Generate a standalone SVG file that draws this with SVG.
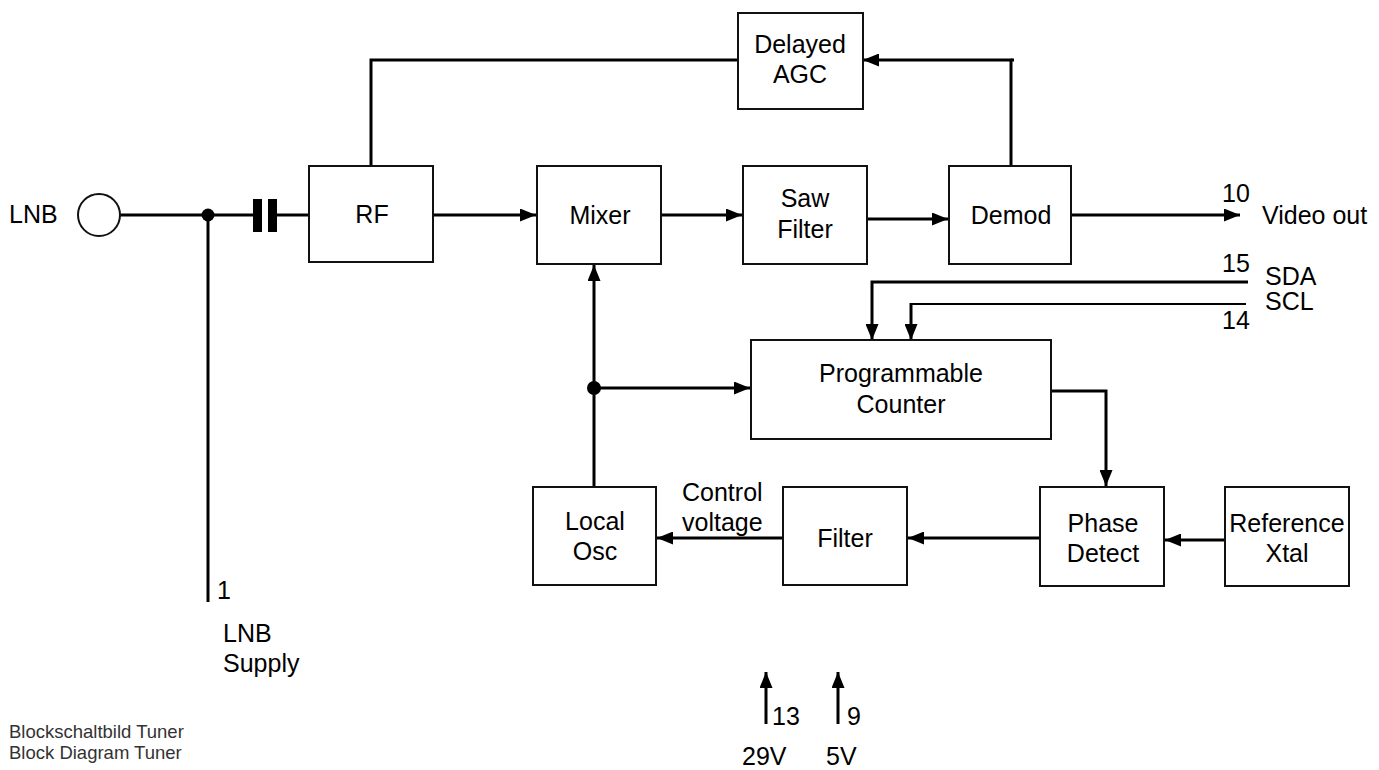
<svg xmlns="http://www.w3.org/2000/svg" width="1379" height="770" viewBox="0 0 1379 770">
<style>
.box{fill:#fff;stroke:#111;stroke-width:2}
.t{font-family:"Liberation Sans",Arial,sans-serif;font-size:25px;fill:#000}
.c{text-anchor:middle}
.w{fill:none;stroke:#000;stroke-width:3}
.thin{fill:none;stroke:#000;stroke-width:1.8}
.arr{marker-end:url(#ah)}
.small{font-family:"Liberation Sans",Arial,sans-serif;font-size:18.5px;fill:#333}
</style>
<defs>
<marker id="ah" markerUnits="userSpaceOnUse" markerWidth="17" markerHeight="13" refX="16" refY="6.5" orient="auto">
<path d="M0,0 L16,6.5 L0,13 z" fill="#000"/>
</marker>
</defs>
<rect width="1379" height="770" fill="#fff"/>

<g id="connectors">
<line class="w" x1="120" y1="215" x2="253" y2="215"/>
<line class="w" x1="277" y1="215" x2="309" y2="215"/>
<line class="w" x1="208" y1="215" x2="208" y2="602"/>
<circle cx="208" cy="215" r="6.5" fill="#000"/>
<rect x="253" y="199" width="9" height="33" fill="#000"/>
<rect x="268" y="199" width="9" height="33" fill="#000"/>
<line class="w arr" x1="433" y1="215" x2="536" y2="215"/>
<line class="w arr" x1="661" y1="215" x2="742" y2="215"/>
<line class="w arr" x1="867" y1="219" x2="948" y2="219"/>
<line class="w arr" x1="1071" y1="215" x2="1240" y2="215"/>
<polyline class="w" points="371,166 371,60 739,60"/>
<polyline class="w arr" points="1011,166 1011,60 863,60"/>
<line class="w" x1="1011" y1="60" x2="1014" y2="60"/>
<polyline class="w arr" points="1248,282 872,282 872,340"/>
<polyline class="thin" points="1246,304 911,304"/>
<polyline class="w arr" points="911,303 911,340"/>
<line class="w arr" x1="594" y1="487" x2="594" y2="265"/>
<circle cx="594" cy="388" r="7" fill="#000"/>
<line class="w arr" x1="594" y1="388" x2="750" y2="388"/>
<polyline class="w arr" points="1051,391 1106,391 1106,486"/>
<line class="w arr" x1="783" y1="538" x2="657" y2="538"/>
<line class="w arr" x1="1040" y1="538" x2="908" y2="538"/>
<line class="w arr" x1="1225" y1="540" x2="1165" y2="540"/>
<line class="w arr" x1="766" y1="724" x2="766" y2="672"/>
<line class="w arr" x1="838" y1="724" x2="838" y2="672"/>
</g>

<g id="lnb">
<circle cx="99" cy="215" r="21" fill="#fff" stroke="#111" stroke-width="2"/>
<text class="t" x="9" y="223">LNB</text>
</g>
<g id="rf"><rect class="box" x="309" y="166" width="124" height="96"/><text class="t c" x="372" y="223">RF</text></g>
<g id="mixer"><rect class="box" x="537" y="166" width="124" height="98"/><text class="t c" x="600" y="224">Mixer</text></g>
<g id="saw"><rect class="box" x="743" y="166" width="124" height="98"/><text class="t c" x="805" y="207">Saw</text><text class="t c" x="805" y="238">Filter</text></g>
<g id="demod"><rect class="box" x="949" y="166" width="122" height="98"/><text class="t c" x="1011" y="224">Demod</text></g>
<g id="agc"><rect class="box" x="738" y="13" width="125" height="96"/><text class="t c" x="800" y="53">Delayed</text><text class="t c" x="800" y="83">AGC</text></g>
<g id="counter"><rect class="box" x="751" y="340" width="300" height="99"/><text class="t c" x="901" y="382">Programmable</text><text class="t c" x="901" y="413">Counter</text></g>
<g id="localosc"><rect class="box" x="533" y="487" width="123" height="98"/><text class="t c" x="595" y="530">Local</text><text class="t c" x="595" y="560">Osc</text></g>
<g id="filter"><rect class="box" x="783" y="487" width="124" height="98"/><text class="t c" x="845" y="547">Filter</text></g>
<g id="phase"><rect class="box" x="1040" y="487" width="124" height="99"/><text class="t c" x="1103" y="532">Phase</text><text class="t c" x="1103" y="562">Detect</text></g>
<g id="xtal"><rect class="box" x="1225" y="487" width="124" height="99"/><text class="t c" x="1287" y="532">Reference</text><text class="t c" x="1287" y="562">Xtal</text></g>

<g id="labels">
<text class="t" x="682" y="501">Control</text>
<text class="t" x="682" y="531">voltage</text>
<text class="t" x="1222" y="202">10</text>
<text class="t" x="1262" y="224">Video out</text>
<text class="t" x="1222" y="272">15</text>
<text class="t" x="1265" y="285">SDA</text>
<text class="t" x="1265" y="310">SCL</text>
<text class="t" x="1222" y="329">14</text>
<text class="t" x="217" y="599">1</text>
<text class="t" x="223" y="642">LNB</text>
<text class="t" x="223" y="672">Supply</text>
<text class="t" x="772" y="725">13</text>
<text class="t" x="847" y="725">9</text>
<text class="t" x="742" y="765">29V</text>
<text class="t" x="826" y="765">5V</text>
<text class="small" x="9" y="738">Blockschaltbild Tuner</text>
<text class="small" x="9" y="759">Block Diagram Tuner</text>
</g>
</svg>
